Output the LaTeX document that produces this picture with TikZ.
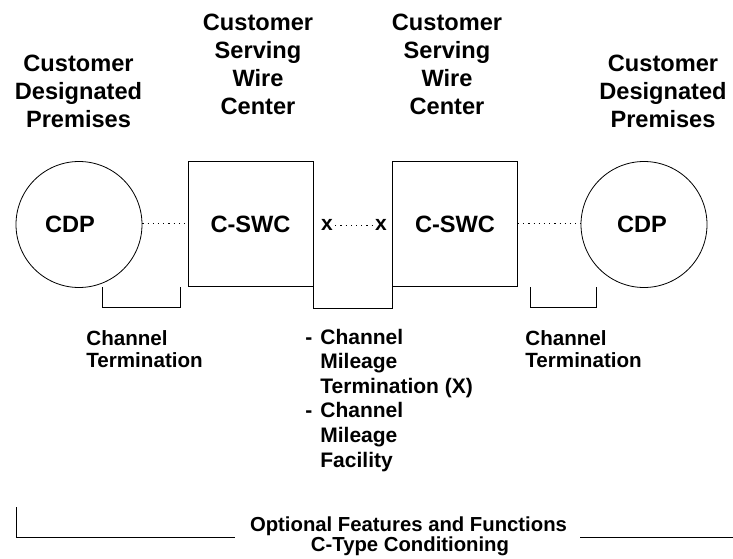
\documentclass[tikz,border=0pt]{standalone}
\usepackage{fontspec}
\setmainfont{Liberation Sans}
\begin{document}
\begin{tikzpicture}[x=1pt,y=-1pt,
  line width=0.8pt,
  big/.style={font=\fontsize{23.6}{28}\selectfont\bfseries, inner sep=0pt, anchor=base},
  small/.style={font=\fontsize{20.6}{22}\selectfont\bfseries, inner sep=0pt, anchor=base west},
  midtxt/.style={font=\fontsize{21}{24.6}\selectfont\bfseries, inner sep=0pt, anchor=base west},
  bottxt/.style={font=\fontsize{20.3}{18}\selectfont\bfseries, inner sep=0pt, anchor=base},
  xmark/.style={font=\fontsize{21}{20}\selectfont\bfseries, inner sep=0pt, anchor=base},
  premise/.style={draw, circle, minimum size=126pt, inner sep=0pt},
  office/.style={draw, rectangle, minimum width=125pt, minimum height=125pt, inner sep=0pt},
  dots/.style={dash pattern=on 1.2pt off 4pt, line width=1pt}]
\useasboundingbox (0,0) rectangle (733,559);

% top labels
\node[big] (tl) at (78.5,71.4) {\begin{tabular}[t]{@{}c@{}}Customer\\Designated\\Premises\end{tabular}};
\node[big] (tml) at (258,30.4) {\begin{tabular}[t]{@{}c@{}}Customer\\Serving\\Wire\\Center\end{tabular}};
\node[big] (tmr) at (447,30.4) {\begin{tabular}[t]{@{}c@{}}Customer\\Serving\\Wire\\Center\end{tabular}};
\node[big] (tr) at (663,71.4) {\begin{tabular}[t]{@{}c@{}}Customer\\Designated\\Premises\end{tabular}};

% shapes
\node[premise] (cL) at (79,224.5) {};
\node[premise] (cR) at (644,224.5) {};
\node[office] (bL) at (250.5,223.5) {};
\node[office] (bR) at (455,223.5) {};

\node[big] (cdpL) at (70,232) {CDP};
\node[big] (cdpR) at (642,232) {CDP};
\node[big] (swcL) at (250.5,232) {C-SWC};
\node[big] (swcR) at (455,232) {C-SWC};

\node[xmark] (xL) at (327,230) {x};
\node[xmark] (xR) at (381,230) {x};

% dotted connectors
\draw[dots] (cL.east |- 0,223) -- (bL.west |- 0,223);
\draw[dots] ([xshift=2pt]xL.east |- 0,225) -- ([xshift=-2pt]xR.west |- 0,225);
\draw[dots] (bR.east |- 0,223) -- (cR.west |- 0,223);

% brackets
\draw (102,287) -- (102,307.5) -- (180,307.5) -- (180,287);
\draw (bL.south east) -- (bL.south east |- 0,308) -- (bR.south west |- 0,308) -- (bR.south west);
\draw (530,287) -- (530,307.5) -- (596,307.5) -- (596,287);

% lower labels
\node[small] (ctL) at (86,345) {\begin{tabular}[t]{@{}l@{}}Channel\\Termination\end{tabular}};
\node[small] (ctR) at (525,345) {\begin{tabular}[t]{@{}l@{}}Channel\\Termination\end{tabular}};
\node[midtxt] (cm) at (305,344) {\begin{tabular}[t]{@{}l@{\hspace{8pt}}l@{}}-&Channel\\ &Mileage\\ &Termination (X)\\-&Channel\\ &Mileage\\ &Facility\end{tabular}};

% bottom
\node[bottxt] (opt) at (408.5,531.5) {Optional Features and Functions};
\node[bottxt] (ctype) at (410,551) {C-Type Conditioning};
\draw (16,507) -- (16,537) -- (235,537);
\draw (580,537) -- (733,537);
\end{tikzpicture}
\end{document}
